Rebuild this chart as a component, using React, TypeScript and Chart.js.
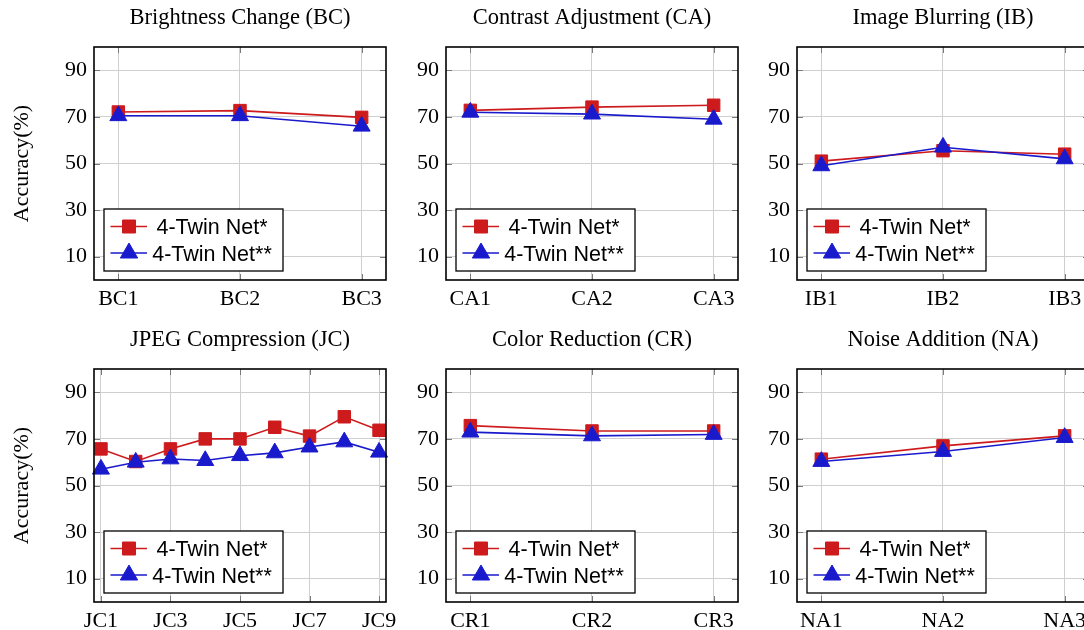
import React, { useEffect, useRef } from 'react';
import { Chart, registerables } from 'chart.js';

Chart.register(...registerables);

// ---------- data ----------
const seriesNames = ['4-Twin Net*', '4-Twin Net**'];
const yTickValues = [10, 30, 50, 70, 90];

const bcLabels = ['BC1', 'BC2', 'BC3'];
const bcNetA = [72.1, 72.7, 69.8];
const bcNetB = [70.5, 70.5, 66.0];

const caLabels = ['CA1', 'CA2', 'CA3'];
const caNetA = [72.8, 74.2, 75.0];
const caNetB = [72.0, 71.2, 69.0];

const ibLabels = ['IB1', 'IB2', 'IB3'];
const ibNetA = [51.0, 55.5, 54.0];
const ibNetB = [49.0, 57.0, 52.0];

const jcLabels = ['JC1', 'JC2', 'JC3', 'JC4', 'JC5', 'JC6', 'JC7', 'JC8', 'JC9'];
const jcNetA = [65.7, 60.3, 65.7, 70.0, 70.0, 75.0, 71.2, 79.5, 73.7];
const jcNetB = [57.0, 60.0, 61.4, 60.7, 62.8, 64.0, 66.5, 68.7, 64.3];

const crLabels = ['CR1', 'CR2', 'CR3'];
const crNetA = [75.7, 73.4, 73.4];
const crNetB = [72.9, 71.3, 71.9];

const naLabels = ['NA1', 'NA2', 'NA3'];
const naNetA = [61.3, 67.0, 71.3];
const naNetB = [60.3, 64.6, 70.6];

const panelTitles = [
  'Brightness Change (BC)',
  'Contrast Adjustment (CA)',
  'Image Blurring (IB)',
  'JPEG Compression (JC)',
  'Color Reduction (CR)',
  'Noise Addition (NA)',
];
const yAxisTitle = 'Accuracy(%)';

// ---------- style ----------
const RED = 'rgb(205,26,28)';
const BLUE = 'rgb(26,26,205)';
const GRID = '#cfcfcf';
const SERIF = '"Liberation Serif", "Times New Roman", serif';
const SANS = '"Liberation Sans", Arial, sans-serif';

const CANVAS_W = 410;
const CANVAS_H = 315;
const PLOT_W = 292;

type PanelDef = {
  title: string;
  labels: string[];
  a: number[];
  b: number[];
  tickIdx: number[];
  left: number;
  top: number;
  yTitle: boolean;
};

const colLeft = [0, 352, 703];
const rowTop = [0, 322];

const panels: PanelDef[] = [
  { title: panelTitles[0], labels: bcLabels, a: bcNetA, b: bcNetB, tickIdx: [0, 1, 2], left: colLeft[0], top: rowTop[0], yTitle: true },
  { title: panelTitles[1], labels: caLabels, a: caNetA, b: caNetB, tickIdx: [0, 1, 2], left: colLeft[1], top: rowTop[0], yTitle: false },
  { title: panelTitles[2], labels: ibLabels, a: ibNetA, b: ibNetB, tickIdx: [0, 1, 2], left: colLeft[2], top: rowTop[0], yTitle: false },
  { title: panelTitles[3], labels: jcLabels, a: jcNetA, b: jcNetB, tickIdx: [0, 2, 4, 6, 8], left: colLeft[0], top: rowTop[1], yTitle: true },
  { title: panelTitles[4], labels: crLabels, a: crNetA, b: crNetB, tickIdx: [0, 1, 2], left: colLeft[1], top: rowTop[1], yTitle: false },
  { title: panelTitles[5], labels: naLabels, a: naNetA, b: naNetB, tickIdx: [0, 1, 2], left: colLeft[2], top: rowTop[1], yTitle: false },
];

function drawMarker(ctx: CanvasRenderingContext2D, kind: string, x: number, y: number, color: string) {
  ctx.save();
  ctx.fillStyle = color;
  ctx.strokeStyle = color;
  ctx.lineWidth = 1;
  ctx.beginPath();
  if (kind === 'rect') {
    const s = 6.5;
    ctx.rect(x - s, y - s, 2 * s, 2 * s);
  } else {
    const r = 10;
    ctx.moveTo(x, y - r);
    ctx.lineTo(x + r * Math.sin((2 * Math.PI) / 3), y - r * Math.cos((2 * Math.PI) / 3));
    ctx.lineTo(x - r * Math.sin((2 * Math.PI) / 3), y - r * Math.cos((2 * Math.PI) / 3));
    ctx.closePath();
  }
  ctx.fill();
  ctx.stroke();
  ctx.restore();
}

const decorPlugin = {
  id: 'decor',
  afterDraw(chart: any, _args: any, opts: any) {
    const ctx: CanvasRenderingContext2D = chart.ctx;
    const ca = chart.chartArea;
    const xs = chart.scales.x;
    const ys = chart.scales.y;
    ctx.save();

    // small dark tick marks inside the frame
    ctx.strokeStyle = '#7a7a7a';
    ctx.lineWidth = 1;
    ctx.beginPath();
    xs.ticks.forEach((t: any) => {
      const px = Math.round(xs.getPixelForValue(t.value)) + 0.5;
      ctx.moveTo(px, ca.top);
      ctx.lineTo(px, ca.top + 6);
      ctx.moveTo(px, ca.bottom);
      ctx.lineTo(px, ca.bottom - 6);
    });
    ys.ticks.forEach((t: any) => {
      const py = Math.round(ys.getPixelForValue(t.value)) + 0.5;
      ctx.moveTo(ca.left, py);
      ctx.lineTo(ca.left + 6, py);
      ctx.moveTo(ca.right, py);
      ctx.lineTo(ca.right - 6, py);
    });
    ctx.stroke();

    // frame
    ctx.strokeStyle = '#000';
    ctx.lineWidth = 1.6;
    ctx.strokeRect(ca.left, ca.top, ca.right - ca.left, ca.bottom - ca.top);

    // title
    ctx.fillStyle = '#000';
    ctx.font = `22.5px ${SERIF}`;
    ctx.textAlign = 'center';
    ctx.textBaseline = 'alphabetic';
    ctx.fillText(opts.title, (ca.left + ca.right) / 2, ca.top - 23.5);

    // y axis title
    if (opts.yTitle) {
      ctx.save();
      ctx.translate(22, (ca.top + ca.bottom) / 2);
      ctx.rotate(-Math.PI / 2);
      ctx.textAlign = 'center';
      ctx.textBaseline = 'middle';
      ctx.font = `22px ${SERIF}`;
      ctx.fillText(yAxisTitle, 0, 0);
      ctx.restore();
    }

    // legend
    const lx = ca.left + 10;
    const ly = ca.bottom - 71;
    const lw = 179;
    const lh = 62;
    ctx.fillStyle = '#fff';
    ctx.fillRect(lx, ly, lw, lh);
    ctx.strokeStyle = '#000';
    ctx.lineWidth = 1.3;
    ctx.strokeRect(lx, ly, lw, lh);
    const rows = [
      { name: seriesNames[0], color: RED, kind: 'rect', y: ly + 17.5 },
      { name: seriesNames[1], color: BLUE, kind: 'triangle', y: ly + 44 },
    ];
    rows.forEach((r) => {
      ctx.strokeStyle = r.color;
      ctx.lineWidth = 1.5;
      ctx.beginPath();
      ctx.moveTo(lx + 6.5, r.y);
      ctx.lineTo(lx + 43, r.y);
      ctx.stroke();
      drawMarker(ctx, r.kind, lx + 25, r.y, r.color);
      ctx.fillStyle = '#000';
      ctx.font = `21.5px ${SANS}`;
      ctx.textAlign = 'center';
      ctx.textBaseline = 'alphabetic';
      ctx.fillText(r.name, lx + 108, r.y + 7.5);
    });

    ctx.restore();
  },
};

function Panel({ def }: { def: PanelDef }) {
  const ref = useRef<HTMLCanvasElement | null>(null);
  useEffect(() => {
    if (!ref.current) return;
    const n = def.labels.length;
    const tickFont = { family: SERIF, size: 22 };
    const chart = new Chart(ref.current, {
      type: 'line',
      data: {
        datasets: [
          {
            label: seriesNames[1],
            data: def.b.map((v, i) => ({ x: i, y: v })),
            borderColor: BLUE,
            backgroundColor: BLUE,
            borderWidth: 1.6,
            pointStyle: 'triangle',
            pointRadius: 9.8,
            pointBorderWidth: 1,
            pointBackgroundColor: BLUE,
            pointBorderColor: BLUE,
            tension: 0,
            clip: false,
            order: 0,
          },
          {
            label: seriesNames[0],
            data: def.a.map((v, i) => ({ x: i, y: v })),
            borderColor: RED,
            backgroundColor: RED,
            borderWidth: 1.6,
            pointStyle: 'rect',
            pointRadius: 8.8,
            pointBorderWidth: 1,
            pointBackgroundColor: RED,
            pointBorderColor: RED,
            tension: 0,
            clip: false,
            order: 1,
          },
        ],
      },
      options: {
        responsive: false,
        maintainAspectRatio: false,
        animation: false,
        devicePixelRatio: 1,
        events: [],
        layout: { padding: { top: 47, left: 0, bottom: 0, right: CANVAS_W - 94 - PLOT_W } },
        plugins: {
          legend: { display: false },
          title: { display: false },
          tooltip: { enabled: false },
          decor: { title: def.title, yTitle: def.yTitle },
        } as any,
        scales: {
          x: {
            type: 'linear',
            min: -0.2,
            max: n - 1 + 0.2,
            afterBuildTicks: (s: any) => {
              s.ticks = def.tickIdx.map((v) => ({ value: v }));
            },
            afterFit: (s: any) => {
              s.height = 35;
            },
            ticks: {
              autoSkip: false,
              maxRotation: 0,
              color: '#000',
              font: tickFont,
              padding: 6,
              callback: (v: any) => def.labels[Math.round(Number(v))] ?? '',
            },
            grid: { color: GRID, lineWidth: 1, drawTicks: false },
            border: { display: false },
          },
          y: {
            type: 'linear',
            min: 0,
            max: 100,
            afterBuildTicks: (s: any) => {
              s.ticks = yTickValues.map((v) => ({ value: v }));
            },
            afterFit: (s: any) => {
              s.width = 94;
            },
            ticks: {
              color: '#000',
              font: tickFont,
              padding: 7,
              callback: (v: any) => String(v),
            },
            grid: { color: GRID, lineWidth: 1, drawTicks: false },
            border: { display: false },
          },
        },
      },
      plugins: [decorPlugin],
    } as any);
    return () => chart.destroy();
  }, [def]);
  return (
    <canvas
      ref={ref}
      width={CANVAS_W}
      height={CANVAS_H}
      style={{ position: 'absolute', left: def.left, top: def.top, width: CANVAS_W, height: CANVAS_H }}
    />
  );
}

export default function App() {
  return (
    <div
      style={{
        position: 'absolute',
        left: 0,
        top: 0,
        width: 1084,
        height: 630,
        overflow: 'hidden',
        background: '#fff',
      }}
    >
      {panels.map((p, i) => (
        <Panel key={i} def={p} />
      ))}
    </div>
  );
}
